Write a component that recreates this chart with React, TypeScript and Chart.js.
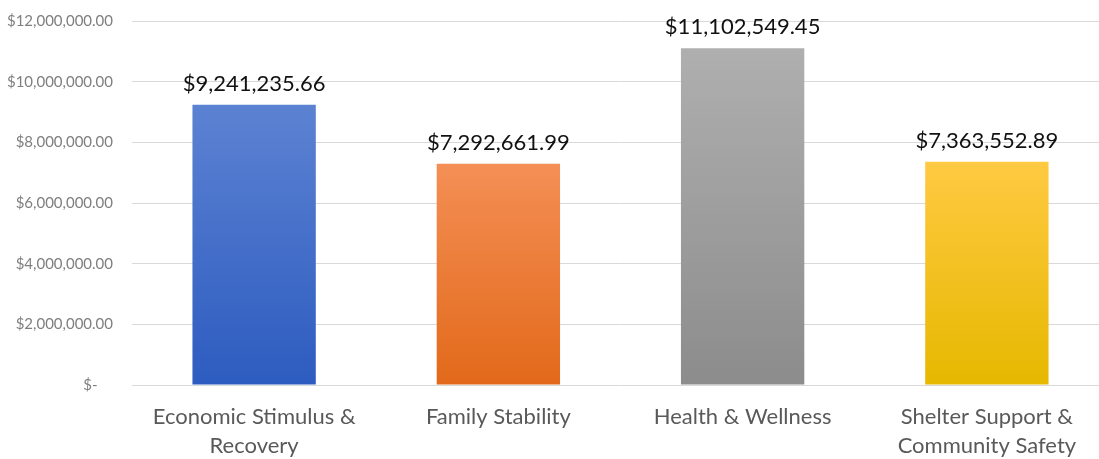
import React, { useEffect, useRef } from "react";
import { Chart, registerables } from "chart.js";

Chart.register(...registerables);

const categories: string[][] = [
  ["Economic Stimulus &", "Recovery"],
  ["Family Stability"],
  ["Health & Wellness"],
  ["Shelter Support &", "Community Safety"],
];
const amounts: number[] = [9241235.66, 7292661.99, 11102549.45, 7363552.89];
const amountLabels: string[] = ["$9,241,235.66", "$7,292,661.99", "$11,102,549.45", "$7,363,552.89"];
const tickLabels: string[] = ["$-    ", "$2,000,000.00", "$4,000,000.00", "$6,000,000.00", "$8,000,000.00", "$10,000,000.00", "$12,000,000.00"];
const gradientTops: string[] = ["#5C82D2", "#F48F55", "#AFAFAF", "#FFCA42"];
const gradientBottoms: string[] = ["#2D5CC0", "#E2691A", "#8C8C8C", "#E6B800"];

const FONT = "Lato, 'Open Sans', sans-serif";

const valueLabelPlugin = {
  id: "valueLabels",
  afterDatasetsDraw(chart: any) {
    const { ctx } = chart;
    const meta = chart.getDatasetMeta(0);
    ctx.save();
    ctx.font = `22px ${FONT}`;
    ctx.fillStyle = "#111111";
    ctx.textAlign = "center";
    ctx.textBaseline = "middle";
    meta.data.forEach((bar: any, i: number) => {
      ctx.fillText(amountLabels[i], bar.x, bar.y - 21);
    });
    ctx.restore();
  },
};

export default function App() {
  const ref = useRef<HTMLCanvasElement>(null);
  useEffect(() => {
    if (!ref.current) return;
    const chart = new Chart(ref.current, {
      type: "bar",
      data: {
        labels: categories,
        datasets: [
          {
            data: amounts,
            backgroundColor: (c: any) => {
              const chart = c.chart;
              const area = chart.chartArea;
              const i = c.dataIndex;
              if (!area || i === undefined || !chart.scales.y) return gradientTops[i ?? 0];
              const yTop = chart.scales.y.getPixelForValue(amounts[i]);
              const g = chart.ctx.createLinearGradient(0, yTop, 0, area.bottom);
              g.addColorStop(0, gradientTops[i]);
              g.addColorStop(1, gradientBottoms[i]);
              return g;
            },
            borderWidth: 0,
            barPercentage: 0.505,
            categoryPercentage: 1,
          },
        ],
      },
      options: {
        responsive: false,
        animation: false,
        layout: { padding: { top: 21, left: 0, right: 1, bottom: 0 } },
        plugins: { legend: { display: false }, tooltip: { enabled: false } },
        scales: {
          y: {
            min: 0,
            max: 12000000,
            ticks: {
              stepSize: 2000000,
              padding: 19,
              color: "#7F7F7F",
              font: { family: FONT, size: 15 },
              callback: (_v: any, idx: number) => tickLabels[idx],
            },
            grid: { color: "#D9D9D9", drawTicks: false, lineWidth: 1 },
            border: { display: false },
            afterFit: (s: any) => {
              s.width = 132;
              s.paddingTop = 0;
              s.paddingBottom = 0;
            },
          },
          x: {
            ticks: {
              color: "#595959",
              padding: 17,
              font: { family: FONT, size: 22, lineHeight: 1.32 },
              maxRotation: 0,
            },
            grid: { display: false, drawTicks: false },
            border: { display: false },
            afterFit: (s: any) => {
              s.height = 74;
            },
          },
        },
      },
      plugins: [valueLabelPlugin],
    });
    return () => chart.destroy();
  }, []);
  return (
    <div style={{ position: "fixed", left: 0, top: 0, width: 1099, height: 459, overflow: "hidden", background: "#fff" }}>
      <canvas ref={ref} width={1110} height={459} />
    </div>
  );
}
